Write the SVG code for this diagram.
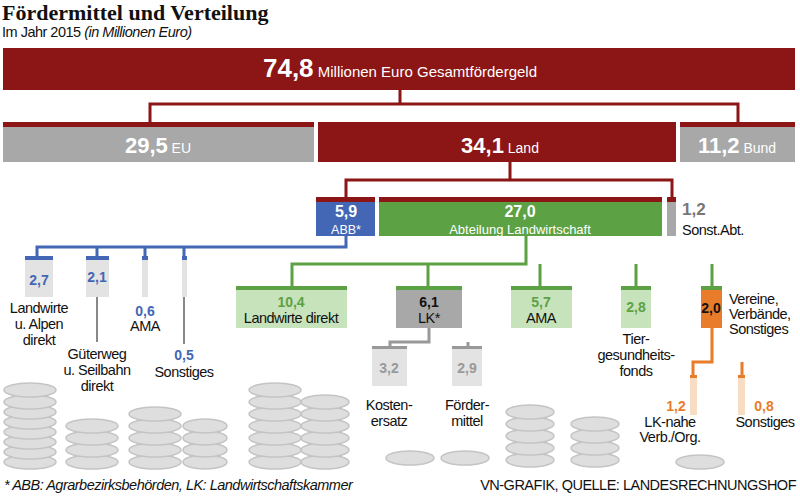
<svg xmlns="http://www.w3.org/2000/svg" width="800" height="497" viewBox="0 0 800 497">
<style>
text{font-family:"Liberation Sans",Arial,sans-serif;}
.t{font-size:14.5px;fill:#111;letter-spacing:-0.5px}
.w{fill:#fff}
.b{font-weight:bold}
.red{fill:#8c1515}.blue{fill:#4366b5}.green{fill:#5ca244}.lgreen{fill:#c7e3bb}.gray{fill:#a8a8a8}.lgray{fill:#e3e3e3}.orange{fill:#e87c2a}.lorange{fill:#f8dcc4}
.cr{stroke:#8c1515;stroke-width:3;fill:none}.cb{stroke:#4366b5;stroke-width:3;fill:none}.cg{stroke:#5ca244;stroke-width:3;fill:none}.cy{stroke:#999;stroke-width:3;fill:none}.co{stroke:#e87c2a;stroke-width:3;fill:none}.ck{stroke:#111;stroke-width:1;fill:none}
.coin{fill:#dedede;stroke:#c4c4c4;stroke-width:1.5}
</style>
<rect width="800" height="497" fill="#fff"/>
<g id="coins">
<g class="coin">
<ellipse cx="30" cy="462" rx="26" ry="7"/><ellipse cx="30" cy="452" rx="26" ry="7"/><ellipse cx="30" cy="442" rx="26" ry="7"/><ellipse cx="30" cy="432" rx="26" ry="7"/><ellipse cx="30" cy="422" rx="26" ry="7"/><ellipse cx="30" cy="412" rx="26" ry="7"/><ellipse cx="30" cy="402" rx="26" ry="7"/><ellipse cx="30" cy="390" rx="26" ry="7"/>
<ellipse cx="92" cy="462" rx="26" ry="7"/><ellipse cx="92" cy="450" rx="26" ry="7"/><ellipse cx="92" cy="438" rx="26" ry="7"/><ellipse cx="92" cy="426" rx="26" ry="7"/>
<ellipse cx="155" cy="462" rx="26" ry="7"/><ellipse cx="155" cy="450" rx="26" ry="7"/><ellipse cx="155" cy="438" rx="26" ry="7"/><ellipse cx="155" cy="426" rx="26" ry="7"/><ellipse cx="155" cy="414" rx="26" ry="7"/>
<ellipse cx="205" cy="462" rx="22" ry="7"/><ellipse cx="205" cy="450" rx="22" ry="7"/><ellipse cx="205" cy="438" rx="22" ry="7"/><ellipse cx="205" cy="426" rx="22" ry="7"/>
<ellipse cx="275" cy="462" rx="26" ry="7"/><ellipse cx="275" cy="450" rx="26" ry="7"/><ellipse cx="275" cy="438" rx="26" ry="7"/><ellipse cx="275" cy="426" rx="26" ry="7"/><ellipse cx="275" cy="414" rx="26" ry="7"/><ellipse cx="275" cy="402" rx="26" ry="7"/><ellipse cx="275" cy="390" rx="26" ry="7"/>
<ellipse cx="325" cy="462" rx="24" ry="7"/><ellipse cx="325" cy="450" rx="24" ry="7"/><ellipse cx="325" cy="438" rx="24" ry="7"/><ellipse cx="325" cy="426" rx="24" ry="7"/><ellipse cx="325" cy="414" rx="24" ry="7"/><ellipse cx="325" cy="402" rx="24" ry="7"/>
<ellipse cx="410" cy="458" rx="24" ry="7"/>
<ellipse cx="465" cy="458" rx="24" ry="7"/>
<ellipse cx="530" cy="460" rx="24" ry="7"/><ellipse cx="530" cy="448" rx="24" ry="7"/><ellipse cx="530" cy="436" rx="24" ry="7"/><ellipse cx="530" cy="424" rx="24" ry="7"/><ellipse cx="530" cy="412" rx="24" ry="7"/>
<ellipse cx="595" cy="460" rx="24" ry="7"/><ellipse cx="595" cy="448" rx="24" ry="7"/><ellipse cx="595" cy="436" rx="24" ry="7"/><ellipse cx="595" cy="424" rx="24" ry="7"/>
<ellipse cx="700" cy="462" rx="24" ry="7"/>
</g>
</g>
<g id="title">
<text x="2" y="20" font-size="22" font-weight="bold" fill="#111" style="font-family:'Liberation Serif',serif">Fördermittel und Verteilung</text>
<text x="2" y="37" class="t" font-size="13">Im Jahr 2015 <tspan font-style="italic">(in Millionen Euro)</tspan></text>
</g>
<g id="connectors">
<path class="cr" d="M400 90V104M150 122V104H738V122"/>
<path class="cr" d="M510 162V180M346 197V180H672V197"/>
<path class="cb" d="M346 236V247H37V256M97 247V256M145 247V256M184 247V256"/>
<path class="cg" d="M526 236V264H292V286M428 264V286M540 264V286M636 264V286M712 264V286"/>
<path class="cy" d="M429 328V342H390V346M468 342V346"/>
<path class="co" d="M712 328V362H693V375M742 362V375"/>
<path class="ck" d="M97 297V342M184 297V344"/>
</g>
<g id="total"><rect class="red" x="3" y="48" width="792" height="42"/>
<text x="400" y="77" class="w" text-anchor="middle" font-size="15"><tspan font-size="26" font-weight="bold">74,8</tspan> Millionen Euro Gesamtfördergeld</text></g>
<g id="eu"><rect class="gray" x="3" y="122" width="311" height="40"/><rect class="red" x="3" y="122" width="311" height="5"/>
<text x="158" y="153" class="w" text-anchor="middle" font-size="14"><tspan font-size="22" font-weight="bold">29,5</tspan> EU</text></g>
<g id="land"><rect class="red" x="318" y="122" width="358" height="40"/>
<text x="500" y="153" class="w" text-anchor="middle" font-size="14"><tspan font-size="22" font-weight="bold">34,1</tspan> Land</text></g>
<g id="bund"><rect class="gray" x="680" y="122" width="115" height="40"/><rect class="red" x="680" y="122" width="115" height="5"/>
<text x="737" y="153" class="w" text-anchor="middle" font-size="14"><tspan font-size="22" font-weight="bold">11,2</tspan> Bund</text></g>
<g id="abb"><rect class="blue" x="316" y="197" width="59" height="39"/><rect class="red" x="316" y="197" width="59" height="5"/>
<text x="346" y="217" class="w b" text-anchor="middle" font-size="16">5,9</text><text x="346" y="234" class="w" text-anchor="middle" font-size="12.5">ABB*</text></g>
<g id="abt"><rect class="green" x="379" y="197" width="283" height="39"/><rect class="red" x="379" y="197" width="283" height="5"/>
<text x="520" y="217" class="w b" text-anchor="middle" font-size="16">27,0</text><text x="520" y="234" class="w" text-anchor="middle" font-size="13">Abteilung Landwirtschaft</text></g>
<g id="sonstabt"><rect class="gray" x="667" y="197" width="9" height="39"/><rect class="red" x="667" y="197" width="9" height="5"/>
<text x="682" y="215" fill="#777" class="b" font-size="17">1,2</text><text x="682" y="235" class="t">Sonst.Abt.</text></g>
<g id="abb1"><rect class="lgray" x="25" y="256" width="28" height="41"/><rect class="blue" x="25" y="256" width="28" height="4"/>
<text x="39" y="285" fill="#4366b5" class="b" text-anchor="middle" font-size="14">2,7</text>
<text x="39" y="313" class="t" text-anchor="middle">Landwirte</text><text x="39" y="329" class="t" text-anchor="middle">u. Alpen</text><text x="39" y="345" class="t" text-anchor="middle">direkt</text></g>
<g id="abb2"><rect class="lgray" x="86" y="256" width="23" height="41"/><rect class="blue" x="86" y="256" width="23" height="4"/>
<text x="97" y="282" fill="#4366b5" class="b" text-anchor="middle" font-size="14">2,1</text>
<text x="97" y="359" class="t" text-anchor="middle">Güterweg</text><text x="97" y="375" class="t" text-anchor="middle">u. Seilbahn</text><text x="97" y="391" class="t" text-anchor="middle">direkt</text></g>
<g id="abb3"><rect class="lgray" x="142" y="256" width="6" height="41"/><rect class="blue" x="142" y="256" width="6" height="4"/>
<text x="145" y="316" fill="#4366b5" class="b" text-anchor="middle" font-size="14">0,6</text><text x="145" y="331" class="t" text-anchor="middle">AMA</text></g>
<g id="abb4"><rect class="lgray" x="182" y="256" width="5" height="41"/><rect class="blue" x="182" y="256" width="5" height="4"/>
<text x="184" y="360" fill="#4366b5" class="b" text-anchor="middle" font-size="14">0,5</text><text x="184" y="377" class="t" text-anchor="middle">Sonstiges</text></g>
<g id="lw"><rect class="lgreen" x="236" y="286" width="111" height="42"/><rect class="green" x="236" y="286" width="111" height="4"/>
<text x="291" y="307" fill="#5ca244" class="b" text-anchor="middle" font-size="14">10,4</text><text x="291" y="323" class="t" text-anchor="middle">Landwirte direkt</text></g>
<g id="lk"><rect class="gray" x="396" y="286" width="66" height="42"/><rect class="green" x="396" y="286" width="66" height="4"/>
<text x="429" y="307" fill="#111" class="b" text-anchor="middle" font-size="14">6,1</text><text x="429" y="323" class="t" text-anchor="middle">LK*</text></g>
<g id="ama"><rect class="lgreen" x="511" y="286" width="61" height="42"/><rect class="green" x="511" y="286" width="61" height="4"/>
<text x="541" y="307" fill="#5ca244" class="b" text-anchor="middle" font-size="14">5,7</text><text x="541" y="323" class="t" text-anchor="middle">AMA</text></g>
<g id="tier"><rect class="lgreen" x="621" y="286" width="30" height="42"/><rect class="green" x="621" y="286" width="30" height="4"/>
<text x="636" y="312" fill="#5ca244" class="b" text-anchor="middle" font-size="14">2,8</text>
<text x="636" y="344" class="t" text-anchor="middle">Tier-</text><text x="636" y="360" class="t" text-anchor="middle">gesundheits-</text><text x="636" y="376" class="t" text-anchor="middle">fonds</text></g>
<g id="ver"><rect class="orange" x="701" y="286" width="21" height="42"/><rect class="green" x="701" y="286" width="21" height="4"/>
<text x="711" y="313" fill="#111" class="b" text-anchor="middle" font-size="14">2,0</text>
<text x="729" y="304" class="t">Vereine,</text><text x="729" y="319" class="t">Verbände,</text><text x="729" y="334" class="t">Sonstiges</text></g>
<g id="ke"><rect class="lgray" x="372" y="346" width="35" height="40"/><rect fill="#999" x="372" y="346" width="35" height="3"/>
<text x="389" y="373" fill="#999" class="b" text-anchor="middle" font-size="14">3,2</text>
<text x="389" y="410" class="t" text-anchor="middle">Kosten-</text><text x="389" y="426" class="t" text-anchor="middle">ersatz</text></g>
<g id="fm"><rect class="lgray" x="452" y="346" width="30" height="40"/><rect fill="#999" x="452" y="346" width="30" height="3"/>
<text x="467" y="373" fill="#999" class="b" text-anchor="middle" font-size="14">2,9</text>
<text x="467" y="410" class="t" text-anchor="middle">Förder-</text><text x="467" y="426" class="t" text-anchor="middle">mittel</text></g>
<g id="lknahe"><rect class="lorange" x="690" y="375" width="7" height="40"/><rect class="orange" x="690" y="375" width="7" height="3"/>
<text x="676" y="411" fill="#e87c2a" class="b" text-anchor="middle" font-size="14">1,2</text>
<text x="670" y="427" class="t" text-anchor="middle">LK-nahe</text><text x="670" y="442" class="t" text-anchor="middle">Verb./Org.</text></g>
<g id="sonst2"><rect class="lorange" x="738" y="375" width="7" height="40"/><rect class="orange" x="738" y="375" width="7" height="3"/>
<text x="764" y="411" fill="#e87c2a" class="b" text-anchor="middle" font-size="14">0,8</text>
<text x="765" y="427" class="t" text-anchor="middle">Sonstiges</text></g>
<g id="footer">
<text x="4" y="490" class="t" font-style="italic" font-size="13">* ABB: Agrarbezirksbehörden, LK: Landwirtschaftskammer</text>
<text x="796" y="490" class="t" text-anchor="end" font-size="11" letter-spacing="0.3">VN-GRAFIK, QUELLE: LANDESRECHNUNGSHOF</text>
</g>
</svg>
